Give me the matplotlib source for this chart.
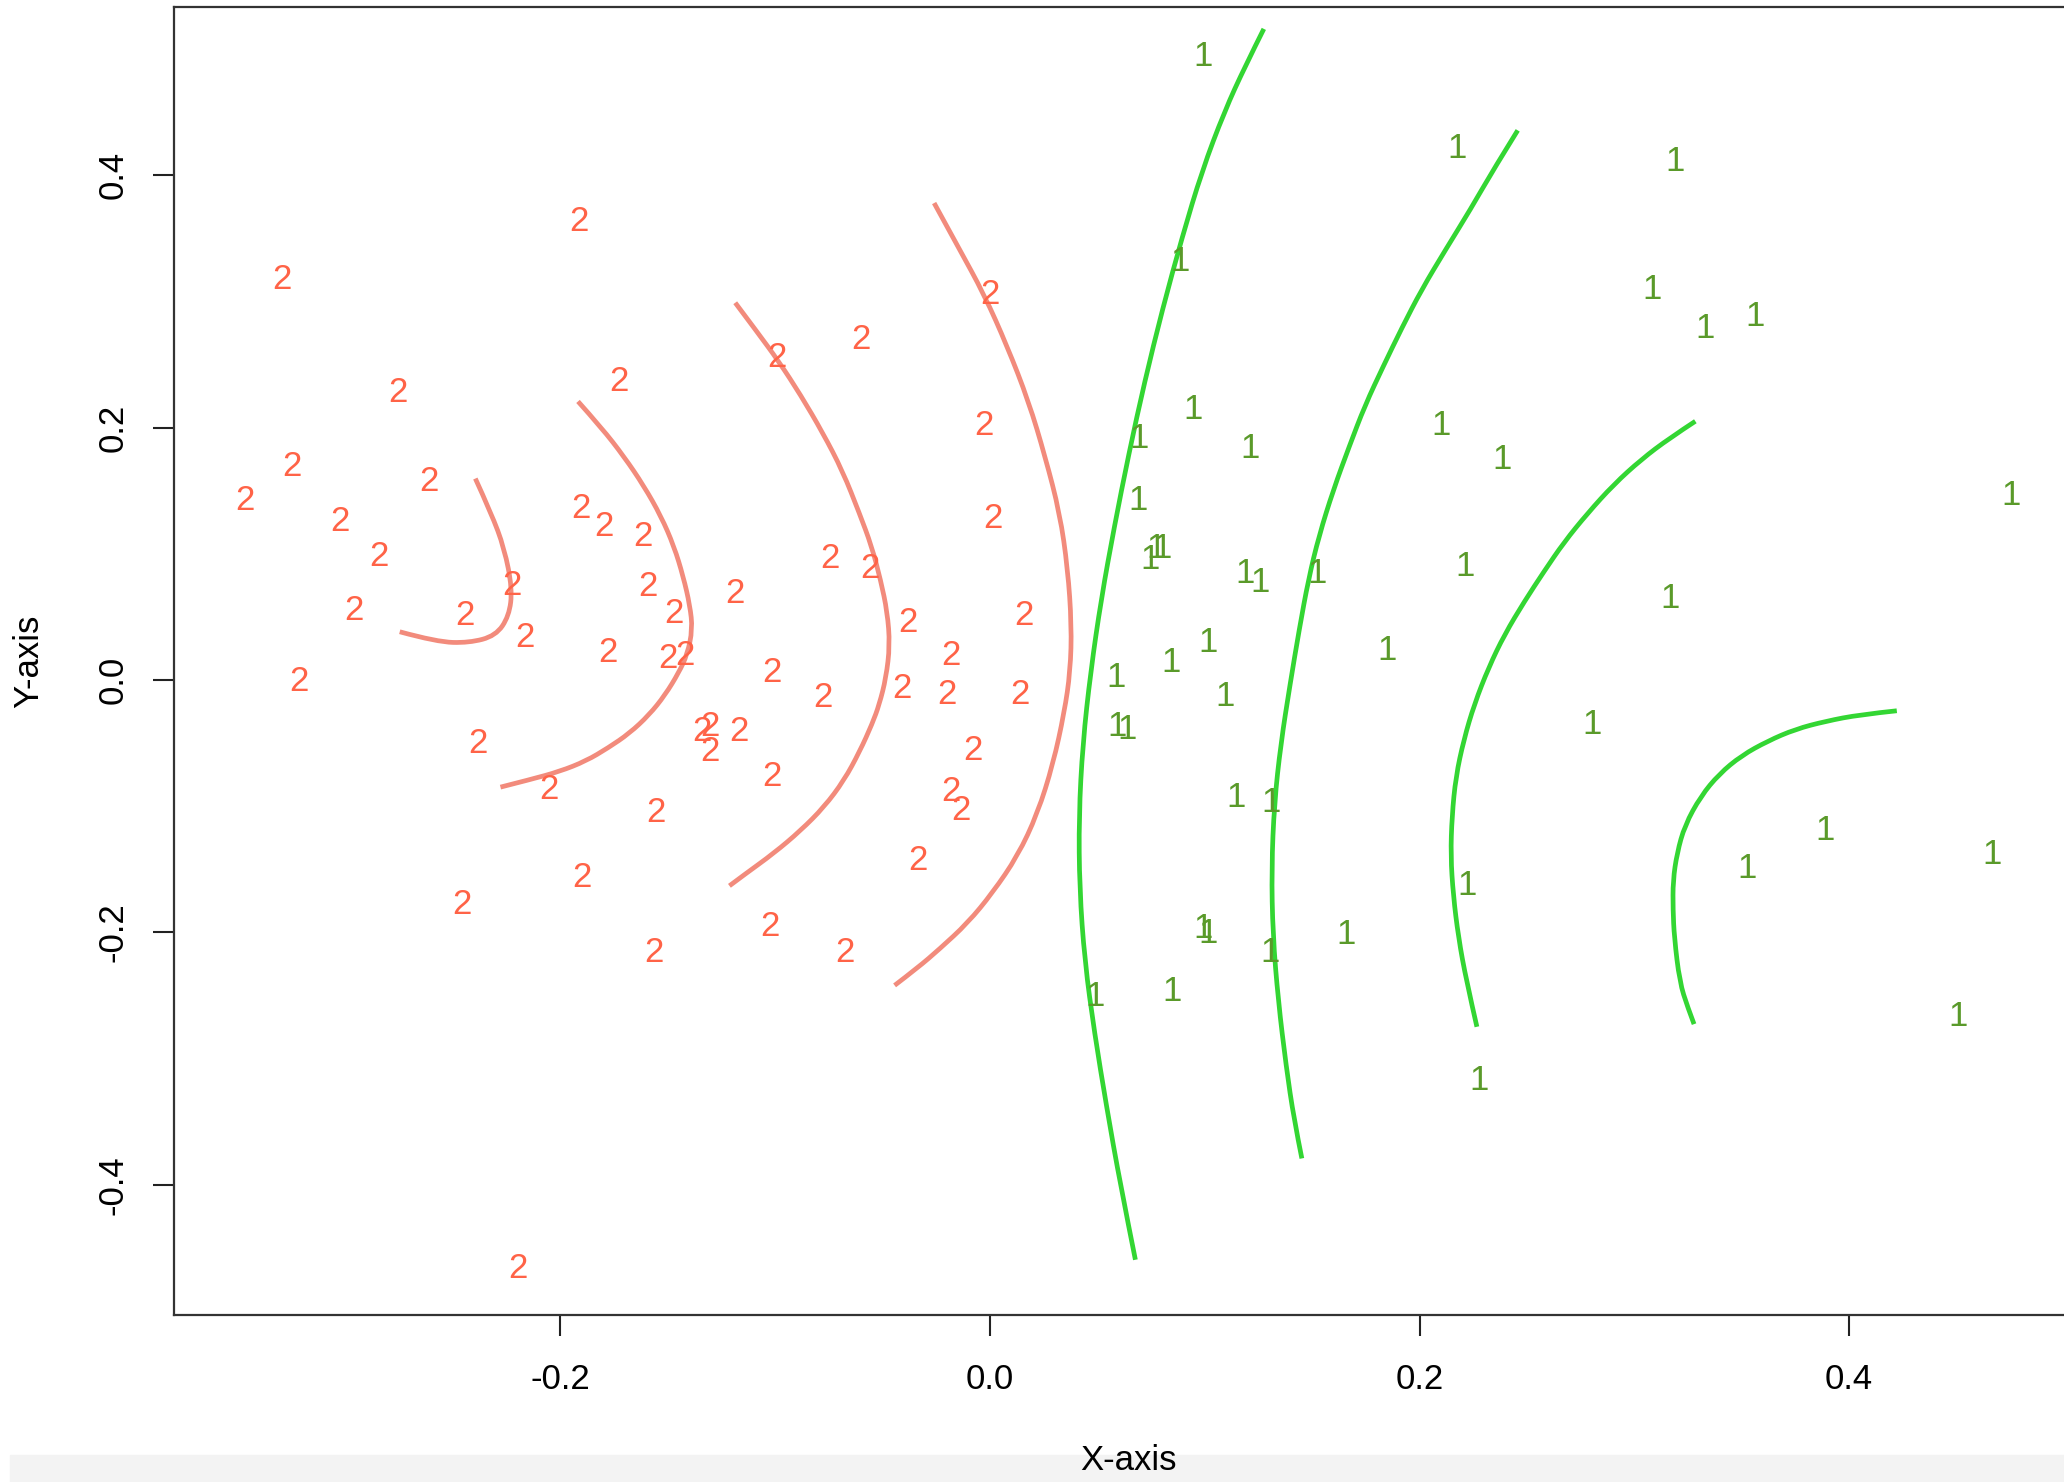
import matplotlib
matplotlib.use("Agg")
import matplotlib.pyplot as plt
from matplotlib.patches import Rectangle, PathPatch
from matplotlib.path import Path

plt.rcParams["font.family"] = ["Liberation Sans", "DejaVu Sans"]
plt.rcParams["axes.unicode_minus"] = False

# class 2 points (x, y)
x2 = [-0.1912, -0.3297, -0.2757, -0.1728, -0.3248, -0.3468, -0.2610, -0.3027,
      -0.2843, -0.1905, -0.1795, -0.1614, -0.2224, -0.2960, -0.2445, -0.2163,
      -0.1593, -0.1471, -0.1777, -0.1501, -0.1422, -0.3217, -0.2384, -0.2053,
      -0.2457, -0.1900, -0.1556, -0.1566, -0.2200, -0.0993, -0.0600, 0.0000,
      -0.0028, 0.0012, -0.0744, -0.0558, -0.1189, -0.0380, 0.0159, -0.1017,
      -0.0184, -0.0778, -0.0411, -0.0202, 0.0141, -0.1342, -0.1305, -0.1305,
      -0.1170, -0.0080, -0.1017, -0.0184, -0.0135, -0.0337, -0.1023, -0.0674]
y2 = [0.3636, 0.3177, 0.2280, 0.2364, 0.1695, 0.1424, 0.1570, 0.1257,
      0.0976, 0.1362, 0.1216, 0.1133, 0.0747, 0.0549, 0.0507, 0.0340,
      0.0737, 0.0528, 0.0215, 0.0167, 0.0194, -0.0015, -0.0505, -0.0870,
      -0.1778, -0.1569, -0.1048, -0.2163, -0.4666, 0.2555, 0.2701, 0.3052,
      0.2019, 0.1279, 0.0964, 0.0882, 0.0684, 0.0455, 0.0507, 0.0058,
      0.0194, -0.0140, -0.0067, -0.0119, -0.0119, -0.0411, -0.0369, -0.0567,
      -0.0411, -0.0557, -0.0765, -0.0880, -0.1037, -0.1433, -0.1950, -0.2163]

# class 1 points (x, y)
x1 = [0.0993, 0.2175, 0.3190, 0.0885, 0.3082, 0.3327, 0.3564, 0.0944,
      0.2100, 0.0692, 0.1213, 0.2384, 0.0689, 0.4755, 0.0746, 0.0772,
      0.0803, 0.1189, 0.1256, 0.1523, 0.2210, 0.3166, 0.1015, 0.1850,
      0.0843, 0.0588, 0.1094, 0.0590, 0.0640, 0.2805, 0.1146, 0.1307,
      0.3887, 0.4665, 0.3526, 0.2220, 0.0994, 0.1017, 0.1659, 0.1304,
      0.0490, 0.0849, 0.4507, 0.2278]
y1 = [0.4939, 0.4209, 0.4107, 0.3318, 0.3094, 0.2781, 0.2877, 0.2145,
      0.2019, 0.1911, 0.1832, 0.1748, 0.1425, 0.1461, 0.0951, 0.1044,
      0.1044, 0.0841, 0.0772, 0.0843, 0.0896, 0.0648, 0.0293, 0.0231,
      0.0142, 0.0022, -0.0129, -0.0369, -0.0396, -0.0356, -0.0933, -0.0974,
      -0.1193, -0.1379, -0.1496, -0.1630, -0.1968, -0.2007, -0.2017, -0.2163,
      -0.2508, -0.2466, -0.2663, -0.3175]

# contour curves
red_curves = [
    ([-0.2396, -0.2322, -0.2261, -0.2224, -0.2239, -0.2301, -0.2426, -0.2574, -0.2748],
     [0.1596, 0.1321, 0.1043, 0.0722, 0.0507, 0.0350, 0.0294, 0.0301, 0.0382]),
    ([-0.1918, -0.1808, -0.1703, -0.1612, -0.1532, -0.1471, -0.1428, -0.1397, -0.1385,
      -0.1409, -0.1449, -0.1513, -0.1587, -0.1679, -0.1777, -0.1881, -0.2004, -0.2138, -0.2279],
     [0.2207, 0.1998, 0.1768, 0.1539, 0.1299, 0.1059, 0.0819, 0.0590, 0.0402,
      0.0204, 0.0058, -0.0120, -0.0277, -0.0423, -0.0537, -0.0642, -0.0725, -0.0788, -0.0849]),
    ([-0.1186, -0.1085, -0.0983, -0.0882, -0.0778, -0.0686, -0.0608, -0.0551, -0.0509,
      -0.0478, -0.0466, -0.0484, -0.0515, -0.0548, -0.0607, -0.0680, -0.0772, -0.0882,
      -0.1005, -0.1140, -0.1213],
     [0.2989, 0.2760, 0.2523, 0.2259, 0.1957, 0.1655, 0.1321, 0.1060, 0.0791,
      0.0538, 0.0277, 0.0017, -0.0192, -0.0346, -0.0568, -0.0797, -0.1006, -0.1194,
      -0.1371, -0.1538, -0.1631]),
    ([-0.0260, -0.0147, -0.0027, 0.0080, 0.0180, 0.0257, 0.0325, 0.0362, 0.0380,
      0.0374, 0.0346, 0.0294, 0.0221, 0.0129, 0.0012, -0.0104, -0.0235, -0.0337, -0.0444],
     [0.3779, 0.3428, 0.3054, 0.2645, 0.2207, 0.1769, 0.1321, 0.0882, 0.0434,
      0.0069, -0.0258, -0.0664, -0.1060, -0.1394, -0.1686, -0.1926, -0.2132, -0.2281, -0.2420]),
]
green_curves = [
    ([0.1275, 0.1189, 0.1091, 0.0987, 0.0895, 0.0803, 0.0720, 0.0646, 0.0579, 0.0518,
      0.0469, 0.0432, 0.0414, 0.0417, 0.0441, 0.0487, 0.0542, 0.0607, 0.0677],
     [0.5159, 0.4867, 0.4502, 0.4032, 0.3510, 0.2937, 0.2363, 0.1789, 0.1216, 0.0642,
      0.0069, -0.0505, -0.1079, -0.1652, -0.2226, -0.2800, -0.3373, -0.3999, -0.4594]),
    ([0.2457, 0.2347, 0.2237, 0.2120, 0.2010, 0.1918, 0.1832, 0.1746, 0.1673, 0.1599,
      0.1532, 0.1483, 0.1440, 0.1397, 0.1354, 0.1324, 0.1311, 0.1317, 0.1342, 0.1379,
      0.1415, 0.1452],
     [0.4355, 0.4053, 0.3729, 0.3406, 0.3094, 0.2791, 0.2489, 0.2176, 0.1852, 0.1508,
      0.1143, 0.0799, 0.0402, -0.0036, -0.0506, -0.0975, -0.1496, -0.2018, -0.2540, -0.3061,
      -0.3478, -0.3791]),
    ([0.3284, 0.3162, 0.3033, 0.2904, 0.2782, 0.2672, 0.2580, 0.2488, 0.2396, 0.2322,
      0.2255, 0.2206, 0.2169, 0.2151, 0.2145, 0.2157, 0.2181, 0.2218, 0.2267],
     [0.2050, 0.1914, 0.1748, 0.1549, 0.1320, 0.1090, 0.0861, 0.0622, 0.0361, 0.0100,
      -0.0192, -0.0474, -0.0766, -0.1079, -0.1392, -0.1705, -0.2039, -0.2383, -0.2748]),
    ([0.4222, 0.4050, 0.3891, 0.3750, 0.3621, 0.3499, 0.3395, 0.3309, 0.3235, 0.3199,
      0.3180, 0.3180, 0.3186, 0.3211, 0.3248, 0.3278],
     [-0.0244, -0.0275, -0.0327, -0.0390, -0.0484, -0.0599, -0.0745, -0.0922, -0.1152, -0.1371,
      -0.1590, -0.1820, -0.2039, -0.2393, -0.2592, -0.2727]),
]

xticks = [-0.2, 0.0, 0.2, 0.4]
yticks = [-0.4, -0.2, 0.0, 0.2, 0.4]


def smooth_path(cx, cy):
    # quadratic bezier through midpoints, read points act as control points
    verts = [(cx[0], cy[0])]
    codes = [Path.MOVETO]
    for i in range(1, len(cx) - 1):
        mx = (cx[i] + cx[i + 1]) / 2
        my = (cy[i] + cy[i + 1]) / 2
        if i == len(cx) - 2:
            mx, my = cx[-1], cy[-1]
        verts += [(cx[i], cy[i]), (mx, my)]
        codes += [Path.CURVE3, Path.CURVE3]
    return Path(verts, codes)


fig = plt.figure(figsize=(20.64, 14.82), dpi=100)
ax = fig.add_axes([0.0843, 0.1124, 0.9244, 0.8831])

for cx, cy in red_curves:
    ax.add_patch(PathPatch(smooth_path(cx, cy), fill=False, edgecolor="#F28B7C",
                           lw=3.4, capstyle="butt", joinstyle="round"))
for cx, cy in green_curves:
    ax.add_patch(PathPatch(smooth_path(cx, cy), fill=False, edgecolor="#33D633",
                           lw=3.4, capstyle="butt", joinstyle="round"))

for x, y in zip(x2, y2):
    ax.text(x, y, "2", color="#FF6347", fontsize=25, ha="center", va="center")
for x, y in zip(x1, y1):
    ax.text(x, y, "1", color="#5A9A2A", fontsize=25, ha="center", va="center")

ax.set_xlim(-0.3799, 0.5084)
ax.set_ylim(-0.5035, 0.5335)
ax.set_xticks(xticks)
ax.set_xticklabels([f"{t:.1f}" for t in xticks])
ax.set_yticks(yticks)
ax.set_yticklabels([f"{t:.1f}" for t in yticks])
ax.tick_params(axis="both", length=15, width=1.5, labelsize=25, color="#222222")
ax.tick_params(axis="x", pad=19)
ax.tick_params(axis="y", pad=17)
plt.setp(ax.get_yticklabels(), rotation=90, va="center")

for side in ["top", "left", "bottom", "right"]:
    ax.spines[side].set_linewidth(1.6)
    ax.spines[side].set_color("#333333")

ax.set_xlabel("X-axis", fontsize=25)
ax.set_ylabel("Y-axis", fontsize=25)
ax.xaxis.set_label_coords(0.5, -0.1105)
ax.xaxis.label.set_va("center")
ax.yaxis.set_label_coords(-0.076, 0.5)
ax.yaxis.label.set_va("center")

fig.patches.append(Rectangle((10 / 2064, 0), 1, 27 / 1482, transform=fig.transFigure,
                             color="#f3f3f3", zorder=-1))

fig.savefig("out.png", dpi=100)
